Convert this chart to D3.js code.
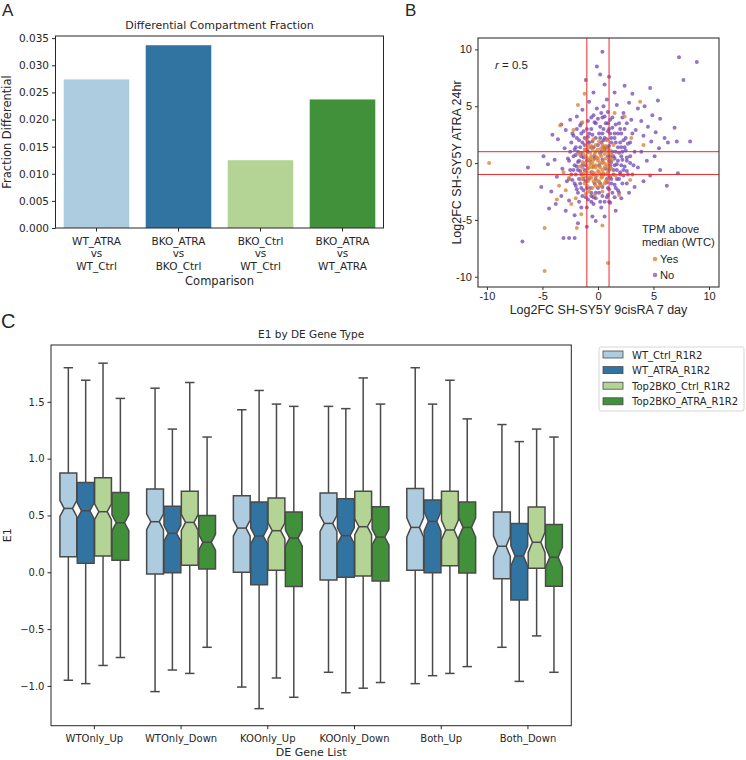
<!DOCTYPE html>
<html>
<head>
<meta charset="utf-8">
<script src="https://cdn.jsdelivr.net/npm/d3@7"></script>
<style>
  body { margin: 0; background: #fff; }
  svg text { fill: #262626; }
</style>
</head>
<body>
<div id="fig"></div>
<script>
// ---- panel A data
const comparisons = ["WT_ATRA|vs|WT_Ctrl", "BKO_ATRA|vs|BKO_Ctrl", "BKO_Ctrl|vs|WT_Ctrl", "BKO_ATRA|vs|WT_ATRA"];
const fractionDiff = [0.0274, 0.0337, 0.0125, 0.0237];
const fracTicks = [0, 0.005, 0.010, 0.015, 0.020, 0.025, 0.030, 0.035];

// ---- panel B data  [log2FC 9cisRA 7d, log2FC ATRA 24hr]
const noPts = [
  [0.4,9.8],[7.3,9.3],[8.9,8.9],[7.7,7.3],[-0.1,8.5],[-1.1,7.3],[4.7,6.6],[5.4,5.5],[6.9,3.1],[8.3,1.9],[7.1,1.9],[6.3,1.8],[7.2,-0.9],
  [-6.8,-6.9],[-3.1,-6.6],[-2.6,-6.6],[-2.1,-6.6],[-6.3,-0.4],[-4.5,-0.1],[-5.1,-2.1],[-4.4,-4.0],[-4.1,2.5],[-3.3,3.4],[-0.5,-4.7],[-0.2,-5.1],[0.6,-4.7],
  [0.2,7.8],[1.0,7.6],[0.6,6.9],[1.5,6.2],[2.4,6.8],[3.1,6.1],[2.8,5.3],[3.6,4.8],[4.2,5.0],[4.9,4.2],[5.6,3.9],[3.9,3.7],[4.5,3.2],[5.2,2.7],
  [6.0,2.2],[5.5,1.3],[4.8,1.9],[4.1,2.4],[3.4,2.9],[3.0,3.8],[2.3,4.4],[1.7,5.1],[0.8,5.6],[-0.4,6.2],[-0.8,5.4],[-1.4,4.7],[-1.9,4.1],[-2.5,3.8],
  [-2.9,2.9],[-3.6,2.1],[-2.2,2.4],[-1.6,3.3],[-4.9,0.6],[-3.9,0.3],[-3.2,-0.5],[-3.7,-1.2],[-2.8,-1.6],[-4.2,-2.5],[-3.3,-2.9],[-2.6,-3.3],[-3.8,-3.6],
  [-2.9,-4.2],[-2.1,-4.6],[-1.5,-3.9],[-1.8,-5.3],[-1.0,-5.6],[-0.4,-3.6],[0.3,-3.9],[1.1,-3.5],[1.6,-4.2],[2.1,-3.1],[2.8,-2.6],[3.3,-2.1],[4.1,-1.6],
  [4.7,-1.1],[5.6,-0.6],[6.2,-2.0],[3.6,-0.4],[4.4,0.2],[5.1,0.6],[3.9,1.0],[3.1,-1.0],[2.6,-1.8],[1.8,-2.4],[0.9,-2.8],[-0.6,-2.9],[-1.3,-2.4],
  [-2.0,-2.0],[-2.4,-1.0],[-2.7,0.4],[-2.1,1.2],[-3.0,1.3],[-1.7,-1.4],
  [-1.8,0.1],[-1.5,0.9],[-1.6,-0.7],[-1.2,1.6],[-1.1,-1.6],[-0.9,2.3],[-0.7,-2.2],[-0.6,3.0],[-0.3,3.6],[-0.2,-2.6],[0.1,2.6],[0.2,3.2],[0.4,-2.1],
  [0.5,2.0],[0.7,3.5],[0.8,-1.7],[0.9,2.8],[1.0,1.5],[1.1,-1.2],[1.2,2.2],[1.3,3.1],[1.4,-0.6],[1.5,0.4],[1.6,1.8],[1.7,-0.1],[1.8,2.6],[1.9,0.9],
  [2.0,-0.8],[2.1,1.4],[2.2,0.3],[2.3,2.0],[2.4,-0.3],[2.5,1.1],[2.6,0.5],[2.7,1.7],[2.9,0.0],[-1.9,-0.3],[-1.4,-0.2],[-1.3,0.5],[-1.0,1.1],
  [-0.8,1.8],[-0.5,2.5],[-0.4,1.4],[0.0,3.9],[0.3,4.4],[0.6,4.1],[1.1,3.8],[1.6,3.4],[-0.1,4.8],[0.5,5.0],[-0.9,3.7],[-1.3,2.8],[-1.7,2.0],
  [-2.0,0.7],[-2.2,-0.6],[-2.3,-1.5],[-1.9,-2.3],[-1.4,-2.9],[-0.9,-3.2],[-0.2,-3.1],[0.4,-2.9],[1.0,-2.3],[1.5,-1.9],[1.9,-1.4],[2.3,-1.1],
  [2.6,-0.7],[0.0,1.6],[0.2,0.9],[0.6,1.2],[0.9,0.6],[1.2,0.1],[0.7,-0.5],[0.3,-1.0],[-0.2,-1.4],[-0.6,-0.8],[-0.3,0.4],[-0.7,0.2],[0.1,-0.2],
  [0.4,0.3],[-0.4,-0.3],[1.3,1.0],[0.8,2.1],[0.2,2.2],[-0.5,1.9],[1.5,2.6],[2.0,3.0],[0.9,4.5],[-0.4,4.2],[1.9,-2.6],[0.6,-3.4],[-1.0,-3.9],[-1.7,-3.4],
  [-0.6,4.0],[0.4,4.0],[1.3,4.0],[2.2,4.0],[-1.5,3.5],[-0.2,3.5],[0.9,3.5],[1.9,3.5],[2.6,3.5],
  [-1.9,3.0],[-1.0,3.0],[0.5,3.0],[1.0,3.0],[2.4,3.0],[-2.3,2.6],[-1.5,2.6],[-0.8,2.6],[0.4,2.6],[1.1,2.6],[2.1,2.6],[3.1,2.6],
  [-1.9,2.2],[-1.2,2.2],[-0.2,2.2],[0.6,2.2],[1.5,2.2],[2.5,2.2],[-2.4,1.8],[-1.4,1.8],[-0.9,1.8],[0.3,1.8],[1.2,1.8],[2.0,1.8],[2.9,1.8],
  [-2.0,1.4],[-1.6,1.4],[-0.6,1.4],[0.5,1.4],[0.8,1.4],[1.8,1.4],[2.4,1.4],[-2.5,1.0],[-1.8,1.0],[-0.9,1.0],[0.3,1.0],[1.6,1.0],[2.2,1.0],[3.3,1.0],
  [-2.2,0.6],[-1.5,0.6],[-0.3,0.6],[1.1,0.6],[1.4,0.6],[2.1,0.6],[2.9,0.6],[-2.6,0.2],[-1.7,0.2],[-1.0,0.2],[1.0,0.2],[1.8,0.2],[2.6,0.2],
  [-2.1,-0.2],[-1.1,-0.2],[1.1,-0.2],[1.5,-0.2],[2.1,-0.2],[3.2,-0.2],[-2.5,-0.6],[-1.8,-0.6],[-1.2,-0.6],[1.0,-0.6],[1.7,-0.6],[2.3,-0.6],
  [-2.0,-1.0],[-1.5,-1.0],[-0.4,-1.0],[0.5,-1.0],[1.4,-1.0],[2.0,-1.0],[2.7,-1.0],[-2.6,-1.4],[-1.3,-1.4],[-0.8,-1.4],[0.8,-1.4],[1.2,-1.4],[1.7,-1.4],
  [-2.1,-1.8],[-1.6,-1.8],[-0.3,-1.8],[0.2,-1.8],[1.2,-1.8],[2.2,-1.8],[-1.5,-2.2],[-1.0,-2.2],[0.0,-2.2],[0.9,-2.2],[1.6,-2.2],
  [-1.8,-2.6],[-0.6,-2.6],[0.1,-2.6],[1.3,-2.6],[-1.1,-3.0],[-0.4,-3.0],[0.8,-3.0],[1.5,-3.0],[-0.6,-3.4],[0.2,-3.4],[1.0,-3.4]
];
const yesPts = [
  [-9.8,0.0],[-4.8,-9.5],[-4.8,-5.7],[0.9,-8.8],[-1.8,5.1],[-1.2,6.1],[-3.4,3.3],[-3.7,-3.2],[-1.9,-5.7],[0.4,-5.5],[3.8,5.4],[4.1,1.6],
  [-2.9,-2.4],[-3.1,-0.8],[-2.4,-3.6],[-1.5,-4.5],[-2.2,2.9],[2.4,4.1],[3.0,2.2],[1.9,-2.8],[-2.6,-1.3],[-3.5,-2.0],[-2.0,-3.1],[-1.1,-2.7],
  [2.9,-1.5],[1.5,4.4],[-1.4,3.6],
  [-1.2,-1.8],[-1.0,-1.2],[-0.9,-0.5],[-0.8,0.2],[-0.7,0.9],[-0.6,1.5],[-0.5,-2.2],[-0.4,-1.6],[-0.3,-0.9],[-0.2,-0.2],[-0.1,0.5],[0.0,1.2],
  [0.1,1.9],[0.2,-2.0],[0.3,-1.3],[0.4,-0.6],[0.5,0.1],[0.6,0.8],[0.7,1.5],[0.8,-1.0],[0.9,-0.3],[1.0,0.4],[1.1,1.1],[-1.3,-0.9],[-1.4,0.1],
  [-1.1,0.6],[-0.9,1.3],[-0.6,-1.3],[-0.5,-0.4],[-0.4,0.3],[-0.2,1.0],[0.0,-0.7],[0.1,-1.6],[0.2,0.0],[0.3,0.6],[0.5,-0.9],[0.6,-1.8],[0.7,-0.1],
  [0.9,0.9],[1.2,-0.5],[1.3,0.3],[-1.5,-1.4],[-1.6,-0.3],[-1.2,1.2],[-0.8,-2.5],[-0.3,-2.8],[0.4,-2.5],[0.8,2.0],[-0.4,2.1],[-1.0,2.0],[1.4,1.6],
  [1.6,-1.1],[-1.7,0.8],[-0.7,-0.1],[0.0,0.2],[-0.1,-1.1],[0.3,1.3],[-0.6,0.6],
  [-0.9,1.6],[-0.2,1.6],[0.4,1.6],[-1.1,1.2],[-0.5,1.2],[0.5,1.2],[0.9,1.2],[-1.3,0.8],[-0.3,0.8],[0.2,0.8],[1.2,0.8],
  [-1.0,0.4],[-0.7,0.4],[0.0,0.4],[0.7,0.4],[1.1,0.4],[-1.2,0.0],[-0.5,0.0],[0.4,0.0],[1.0,0.0],
  [-1.4,-0.4],[-0.8,-0.4],[-0.2,-0.4],[0.2,-0.4],[0.6,-0.4],[1.1,-0.4],[-1.0,-0.8],[-0.5,-0.8],[0.1,-0.8],[0.9,-0.8],
  [-1.3,-1.2],[-0.7,-1.2],[-0.2,-1.2],[0.4,-1.2],[1.0,-1.2],[-0.9,-1.6],[0.0,-1.6],[0.7,-1.6],[-1.0,-2.0],[-0.2,-2.0],[0.3,-2.0]
];
const fcTicks = [-10, -5, 0, 5, 10];
const fcCutoffs = [-1, 1];

// ---- panel C data (rows: gene list, cols: sample)
const geneLists = ["WTOnly_Up", "WTOnly_Down", "KOOnly_Up", "KOOnly_Down", "Both_Up", "Both_Down"];
const samples = ["WT_Ctrl_R1R2", "WT_ATRA_R1R2", "Top2BKO_Ctrl_R1R2", "Top2BKO_ATRA_R1R2"];
const whiskLo = [
  [-0.95, -0.98, -0.82, -0.75],
  [-1.05, -0.86, -0.89, -0.66],
  [-1.01, -1.20, -0.93, -1.10],
  [-0.88, -1.06, -1.02, -0.97],
  [-0.98, -0.91, -0.89, -0.83],
  [-0.66, -0.96, -0.56, -0.88]
];
const q1 = [
  [0.137, 0.079, 0.143, 0.105],
  [-0.015, -0.003, 0.061, 0.029],
  [0.000, -0.109, 0.018, -0.126],
  [-0.068, -0.044, -0.032, -0.076],
  [0.018, -0.003, 0.058, -0.006],
  [-0.056, -0.243, 0.035, -0.123]
];
const med = [
  [0.562, 0.541, 0.533, 0.436],
  [0.445, 0.343, 0.439, 0.264],
  [0.389, 0.319, 0.366, 0.301],
  [0.430, 0.322, 0.401, 0.310],
  [0.395, 0.448, 0.372, 0.395],
  [0.229, 0.143, 0.264, 0.132]
];
const q3 = [
  [0.873, 0.790, 0.831, 0.703],
  [0.732, 0.580, 0.712, 0.500],
  [0.673, 0.618, 0.653, 0.530],
  [0.697, 0.647, 0.714, 0.577],
  [0.738, 0.635, 0.714, 0.618],
  [0.530, 0.430, 0.574, 0.421]
];
const whiskHi = [
  [1.80, 1.69, 1.84, 1.53],
  [1.62, 1.26, 1.67, 1.19],
  [1.43, 1.60, 1.48, 1.46],
  [1.46, 1.44, 1.71, 1.48],
  [1.80, 1.48, 1.69, 1.35],
  [1.30, 1.15, 1.26, 1.19]
];
const notchHalf = [0.07, 0.07, 0.07, 0.07, 0.085, 0.09];
const e1Ticks = [-1.0, -0.5, 0.0, 0.5, 1.0, 1.5];

const palette = ["#aecce0", "#3274a1", "#b3d495", "#40913a"];
const purple = "#7345b3", orange = "#dc8436";
const dejavu = "'DejaVu Sans', sans-serif";
const arial = "'Liberation Sans', Arial, sans-serif";
const minus = d => d3.format(".1f")(d).replace("-", "\u2212");

const svg = d3.select("#fig").append("svg")
    .attr("width", 746).attr("height", 760)
    .attr("viewBox", "0 0 746 760");

// panel letters
svg.append("text").attr("x", 2).attr("y", 16).text("A")
    .attr("font-family", arial).attr("font-size", 17);
svg.append("text").attr("x", 405).attr("y", 16).text("B")
    .attr("font-family", arial).attr("font-size", 17);
svg.append("text").attr("x", 1).attr("y", 328).text("C")
    .attr("font-family", arial).attr("font-size", 20);

// ================= A =================
const A = {left: 55.5, right: 383.5, top: 36, bottom: 228};
const xA = d3.scaleBand().domain(d3.range(comparisons.length))
    .range([A.left, A.right]).paddingInner(0.2).paddingOuter(0.1);
const yA = d3.scaleLinear().domain([0, 0.0354]).range([A.bottom, A.top]);

const gA = svg.append("g").attr("font-family", dejavu);
gA.selectAll(".bar").data(fractionDiff).enter().append("rect")
    .attr("class", "bar")
    .attr("x", (d, i) => xA(i))
    .attr("y", d => yA(d))
    .attr("width", xA.bandwidth())
    .attr("height", d => A.bottom - yA(d))
    .attr("fill", (d, i) => palette[i]);

gA.append("rect").attr("x", A.left).attr("y", A.top)
    .attr("width", A.right - A.left).attr("height", A.bottom - A.top)
    .attr("fill", "none").attr("stroke", "#262626").attr("stroke-width", 1);

let axA = gA.append("g").attr("transform", `translate(${A.left},0)`)
    .call(d3.axisLeft(yA).tickValues(fracTicks).tickFormat(d3.format(".3f")).tickSize(3.5).tickPadding(3));
axA.select(".domain").remove();
axA.selectAll("text").attr("font-size", 10.5).attr("fill", "#262626").attr("font-family", dejavu);
axA.selectAll("line").attr("stroke", "#262626");

let axAx = gA.append("g").attr("transform", `translate(0,${A.bottom})`)
    .call(d3.axisBottom(xA).tickSize(3.5).tickFormat(""));
axAx.select(".domain").remove();
axAx.selectAll("line").attr("stroke", "#262626");
comparisons.forEach((c, i) => {
  const t = gA.append("text").attr("text-anchor", "middle").attr("font-size", 10.5)
      .attr("x", xA(i) + xA.bandwidth() / 2).attr("y", 245);
  c.split("|").forEach((ln, j) => t.append("tspan")
      .attr("x", xA(i) + xA.bandwidth() / 2).attr("dy", j ? 12.4 : 0).text(ln));
});
gA.append("text").attr("x", (A.left + A.right) / 2).attr("y", 285)
    .attr("text-anchor", "middle").attr("font-size", 11.5).text("Comparison");
gA.append("text").attr("transform", `translate(11,${(A.top + A.bottom) / 2}) rotate(-90)`)
    .attr("text-anchor", "middle").attr("font-size", 11.5).text("Fraction Differential");
gA.append("text").attr("x", (A.left + A.right) / 2).attr("y", 29)
    .attr("text-anchor", "middle").attr("font-size", 11).text("Differential Compartment Fraction");

// ================= B =================
const B = {left: 478, right: 719, top: 38, bottom: 287};
const xB = d3.scaleLinear().domain([-10.8, 10.9]).range([B.left, B.right]);
const yB = d3.scaleLinear().domain([-10.9, 11.0]).range([B.bottom, B.top]);
const gB = svg.append("g").attr("font-family", arial);

gB.append("g").selectAll("circle").data(noPts).enter().append("circle")
    .attr("cx", d => xB(d[0])).attr("cy", d => yB(d[1])).attr("r", 2.0)
    .attr("fill", purple).attr("fill-opacity", 0.75);
gB.append("g").selectAll("circle").data(yesPts).enter().append("circle")
    .attr("cx", d => xB(d[0])).attr("cy", d => yB(d[1])).attr("r", 2.0)
    .attr("fill", orange).attr("fill-opacity", 0.8);

gB.selectAll(".vcut").data(fcCutoffs).enter().append("line")
    .attr("x1", d => xB(d)).attr("x2", d => xB(d))
    .attr("y1", B.top).attr("y2", B.bottom)
    .attr("stroke", "#f0282a").attr("stroke-width", 1);
gB.selectAll(".hcut").data(fcCutoffs).enter().append("line")
    .attr("y1", d => yB(d)).attr("y2", d => yB(d))
    .attr("x1", B.left).attr("x2", B.right)
    .attr("stroke", "#f0282a").attr("stroke-width", 1);

gB.append("rect").attr("x", B.left).attr("y", B.top)
    .attr("width", B.right - B.left).attr("height", B.bottom - B.top)
    .attr("fill", "none").attr("stroke", "#333").attr("stroke-width", 1.1);

let axBy = gB.append("g").attr("transform", `translate(${B.left},0)`)
    .call(d3.axisLeft(yB).tickValues(fcTicks).tickSize(3).tickPadding(3));
let axBx = gB.append("g").attr("transform", `translate(0,${B.bottom})`)
    .call(d3.axisBottom(xB).tickValues(fcTicks).tickSize(3).tickPadding(2));
[axBy, axBx].forEach(ax => {
  ax.select(".domain").remove();
  ax.selectAll("text").attr("font-size", 11).attr("font-family", arial).attr("fill", "#222")
      .text(d => String(d));
  ax.selectAll("line").attr("stroke", "#333");
});
gB.append("text").attr("x", (B.left + B.right) / 2).attr("y", 314)
    .attr("text-anchor", "middle").attr("font-size", 12.5).attr("fill", "#111")
    .text("Log2FC SH-SY5Y 9cisRA 7 day");
gB.append("text").attr("transform", `translate(461,${(B.top + B.bottom) / 2}) rotate(-90)`)
    .attr("text-anchor", "middle").attr("font-size", 12.5).attr("fill", "#111")
    .text("Log2FC SH-SY5Y ATRA 24hr");
const rt = gB.append("text").attr("x", 495).attr("y", 69).attr("font-size", 11.5).attr("fill", "#111");
rt.append("tspan").attr("font-style", "italic").text("r");
rt.append("tspan").text(" = 0.5");

gB.append("text").attr("x", 642).attr("y", 233).attr("font-size", 11.2).attr("fill", "#111").text("TPM above");
gB.append("text").attr("x", 642).attr("y", 246).attr("font-size", 11.2).attr("fill", "#111").text("median (WTC)");
[["Yes", orange], ["No", "#8a5cc6"]].forEach((e, i) => {
  gB.append("circle").attr("cx", 655).attr("cy", 259 + i * 16).attr("r", 2.3).attr("fill", e[1]).attr("fill-opacity", 0.8);
  gB.append("text").attr("x", 660).attr("y", 263 + i * 16).attr("font-size", 11.2).attr("fill", "#111").text(e[0]);
});

// ================= C =================
const C = {left: 51, right: 571.3, top: 345, bottom: 725.7};
const xC = d3.scaleBand().domain(geneLists).range([C.left, C.right]);
const xInner = d3.scaleBand().domain(samples).range([-0.4 * xC.bandwidth(), 0.4 * xC.bandwidth()]);
const yC = d3.scaleLinear().domain([-1.35, 2.0]).range([C.bottom, C.top]);
const gC = svg.append("g").attr("font-family", dejavu);
const boxStroke = "#4a4a4a";

geneLists.forEach((g, gi) => {
  samples.forEach((s, si) => {
    const cx = xC(g) + xC.bandwidth() / 2 + xInner(s) + xInner.bandwidth() / 2;
    const w = xInner.bandwidth() * 0.97, hw = w / 2, nw = w / 4;
    const n = notchHalf[gi], m = med[gi][si];
    const capW = w * 0.28;
    const gb = gC.append("g");
    // whiskers
    gb.append("line").attr("x1", cx).attr("x2", cx)
        .attr("y1", yC(q3[gi][si])).attr("y2", yC(whiskHi[gi][si]));
    gb.append("line").attr("x1", cx).attr("x2", cx)
        .attr("y1", yC(q1[gi][si])).attr("y2", yC(whiskLo[gi][si]));
    gb.append("line").attr("x1", cx - capW).attr("x2", cx + capW)
        .attr("y1", yC(whiskHi[gi][si])).attr("y2", yC(whiskHi[gi][si]));
    gb.append("line").attr("x1", cx - capW).attr("x2", cx + capW)
        .attr("y1", yC(whiskLo[gi][si])).attr("y2", yC(whiskLo[gi][si]));
    gb.selectAll("line").attr("stroke", boxStroke).attr("stroke-width", 1.5);
    // notched box
    const pts = [
      [cx - hw, yC(q1[gi][si])], [cx - hw, yC(m - n)], [cx - nw, yC(m)], [cx - hw, yC(m + n)],
      [cx - hw, yC(q3[gi][si])], [cx + hw, yC(q3[gi][si])], [cx + hw, yC(m + n)], [cx + nw, yC(m)],
      [cx + hw, yC(m - n)], [cx + hw, yC(q1[gi][si])]
    ];
    gb.append("path").attr("d", d3.line()(pts) + "Z")
        .attr("fill", palette[si]).attr("stroke", boxStroke).attr("stroke-width", 1.5)
        .attr("stroke-linejoin", "miter");
    gb.append("line").attr("x1", cx - nw).attr("x2", cx + nw)
        .attr("y1", yC(m)).attr("y2", yC(m))
        .attr("stroke", boxStroke).attr("stroke-width", 1.5);
  });
});

gC.append("rect").attr("x", C.left).attr("y", C.top)
    .attr("width", C.right - C.left).attr("height", C.bottom - C.top)
    .attr("fill", "none").attr("stroke", "#262626").attr("stroke-width", 1);

let axCy = gC.append("g").attr("transform", `translate(${C.left},0)`)
    .call(d3.axisLeft(yC).tickValues(e1Ticks).tickFormat(minus).tickSize(3.5).tickPadding(3));
let axCx = gC.append("g").attr("transform", `translate(0,${C.bottom})`)
    .call(d3.axisBottom(xC).tickSize(3.5).tickPadding(6));
[axCy, axCx].forEach(ax => {
  ax.select(".domain").remove();
  ax.selectAll("text").attr("font-size", 10).attr("font-family", dejavu).attr("fill", "#262626");
  ax.selectAll("line").attr("stroke", "#262626");
});
gC.append("text").attr("x", (C.left + C.right) / 2).attr("y", 338)
    .attr("text-anchor", "middle").attr("font-size", 10.5).text("E1 by DE Gene Type");
gC.append("text").attr("x", (C.left + C.right) / 2).attr("y", 756)
    .attr("text-anchor", "middle").attr("font-size", 11).text("DE Gene List");
gC.append("text").attr("transform", `translate(11,${(C.top + C.bottom) / 2}) rotate(-90)`)
    .attr("text-anchor", "middle").attr("font-size", 11).text("E1");

// legend
const lg = gC.append("g").attr("transform", "translate(599,347)");
lg.append("rect").attr("width", 145).attr("height", 64).attr("rx", 2)
    .attr("fill", "#fff").attr("stroke", "#d6d6d6");
samples.forEach((s, i) => {
  lg.append("rect").attr("x", 4).attr("y", 4 + i * 15.6).attr("width", 20).attr("height", 7)
      .attr("fill", palette[i]).attr("stroke", boxStroke).attr("stroke-width", 0.8);
  lg.append("text").attr("x", 33).attr("y", 11.5 + i * 15.6).attr("font-size", 10).text(s);
});
</script>
</body>
</html>
